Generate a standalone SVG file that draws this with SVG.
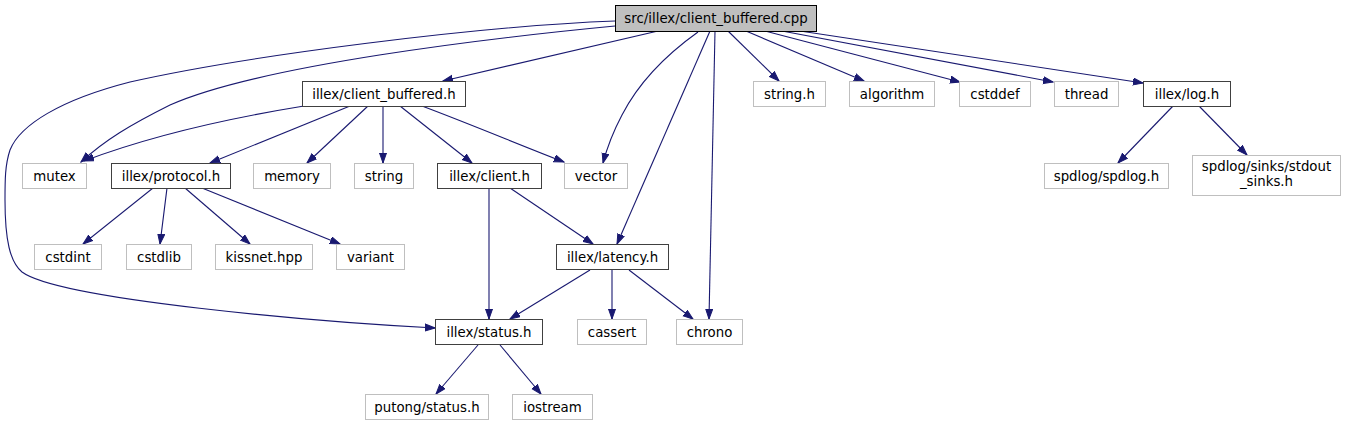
<svg xmlns="http://www.w3.org/2000/svg" width="1346" height="425" viewBox="0 0 1346 425">
<style>
.n rect{fill:#fff;stroke:#bfbfbf;stroke-width:1}
.n.k rect{stroke:#404040}
.n.r rect{fill:#bfbfbf;stroke:#000}
.n text{font-family:"DejaVu Sans",sans-serif;font-size:13.33px;fill:#000;text-anchor:middle}
#edges path{fill:none;stroke:#191970;stroke-width:1.1;marker-end:url(#a)}
</style>
<defs>
<marker id="a" markerUnits="userSpaceOnUse" markerWidth="11" markerHeight="9" refX="10" refY="4" orient="auto">
<path d="M0,0.5 L10,4 L0,7.5 z" fill="#191970" stroke="#191970" stroke-width="1"/>
</marker>
</defs>
<rect width="1346" height="425" fill="#fff"/>
<g id="edges">
<path d="M615,21 C480,26 250,55 130,82 C60,100 20,125 10,150 C5,165 5,180 5,200 C5,240 10,262 22,272 C60,300 320,322 435,328"/>
<path d="M615,26 C490,38 260,65 170,105 C130,125 105,140 81,162"/>
<path d="M658,31 L443,81"/>
<path d="M698,32 C670,52 640,80 622,115 C613,132 607,148 603,163"/>
<path d="M710,31 L617,244"/>
<path d="M715,31 L709,319"/>
<path d="M728,31 L779,81"/>
<path d="M746,31 L864,81"/>
<path d="M765,31 L960,82"/>
<path d="M782,31 L1053,82"/>
<path d="M800,31 L1143,83"/>
<path d="M304,106 C230,118 150,136 84,161"/>
<path d="M350,106 L210,163"/>
<path d="M368,106 L307,163"/>
<path d="M383,106 L383,163"/>
<path d="M400,106 L472,163"/>
<path d="M422,106 C470,124 520,145 564,162"/>
<path d="M153,188 L83,244"/>
<path d="M167,188 L160,244"/>
<path d="M185,188 L250,244"/>
<path d="M202,188 L340,244"/>
<path d="M489,188 L489,319"/>
<path d="M510,188 L593,244"/>
<path d="M590,270 L510,319"/>
<path d="M612,270 L612,319"/>
<path d="M629,270 L693,319"/>
<path d="M478,345 L436,394"/>
<path d="M500,345 L541,394"/>
<path d="M1173,106 L1118,163"/>
<path d="M1199,106 L1247,155"/>
</g>
<g id="n_cpp" class="n r"><rect x="615.5" y="5.5" width="201" height="26"/><text x="716" y="23">src/illex/client_buffered.cpp</text></g>
<g id="n_cbh" class="n k"><rect x="302.5" y="81.5" width="163" height="25"/><text x="384" y="99">illex/client_buffered.h</text></g>
<g id="n_stringh" class="n"><rect x="753.5" y="81.5" width="72" height="25"/><text x="789.5" y="99">string.h</text></g>
<g id="n_algorithm" class="n"><rect x="849.5" y="81.5" width="85" height="25"/><text x="892" y="99">algorithm</text></g>
<g id="n_cstddef" class="n"><rect x="959.5" y="81.5" width="71" height="25"/><text x="995" y="99">cstddef</text></g>
<g id="n_thread" class="n"><rect x="1054.5" y="81.5" width="64" height="25"/><text x="1086.5" y="99">thread</text></g>
<g id="n_log" class="n k"><rect x="1143.5" y="81.5" width="87" height="25"/><text x="1187" y="99">illex/log.h</text></g>
<g id="n_mutex" class="n"><rect x="22.5" y="163.5" width="64" height="25"/><text x="54.5" y="181">mutex</text></g>
<g id="n_protocol" class="n k"><rect x="111.5" y="163.5" width="119" height="25"/><text x="171" y="181">illex/protocol.h</text></g>
<g id="n_memory" class="n"><rect x="253.5" y="163.5" width="77" height="25"/><text x="292" y="181">memory</text></g>
<g id="n_string" class="n"><rect x="354.5" y="163.5" width="59" height="25"/><text x="384" y="181">string</text></g>
<g id="n_client" class="n k"><rect x="437.5" y="163.5" width="104" height="25"/><text x="489.5" y="181">illex/client.h</text></g>
<g id="n_vector" class="n"><rect x="564.5" y="163.5" width="63" height="25"/><text x="596" y="181">vector</text></g>
<g id="n_spdlog" class="n"><rect x="1044.5" y="163.5" width="124" height="25"/><text x="1106.5" y="181">spdlog/spdlog.h</text></g>
<g id="n_sinks" class="n"><rect x="1192.5" y="155.5" width="148" height="40"/><text x="1266.5" y="171">spdlog/sinks/stdout</text><text x="1266.5" y="186">_sinks.h</text></g>
<g id="n_cstdint" class="n"><rect x="34.5" y="244.5" width="67" height="25"/><text x="68" y="262">cstdint</text></g>
<g id="n_cstdlib" class="n"><rect x="126.5" y="244.5" width="65" height="25"/><text x="159" y="262">cstdlib</text></g>
<g id="n_kissnet" class="n"><rect x="215.5" y="244.5" width="97" height="25"/><text x="264" y="262">kissnet.hpp</text></g>
<g id="n_variant" class="n"><rect x="336.5" y="244.5" width="68" height="25"/><text x="370.5" y="262">variant</text></g>
<g id="n_latency" class="n k"><rect x="556.5" y="244.5" width="112" height="25"/><text x="612.5" y="262">illex/latency.h</text></g>
<g id="n_status" class="n k"><rect x="435.5" y="319.5" width="107" height="25"/><text x="489" y="337">illex/status.h</text></g>
<g id="n_cassert" class="n"><rect x="577.5" y="319.5" width="69" height="25"/><text x="612" y="337">cassert</text></g>
<g id="n_chrono" class="n"><rect x="676.5" y="319.5" width="66" height="25"/><text x="709.5" y="337">chrono</text></g>
<g id="n_putong" class="n"><rect x="365.5" y="394.5" width="123" height="25"/><text x="427" y="412">putong/status.h</text></g>
<g id="n_iostream" class="n"><rect x="512.5" y="394.5" width="80" height="25"/><text x="552.5" y="412">iostream</text></g>
</svg>
